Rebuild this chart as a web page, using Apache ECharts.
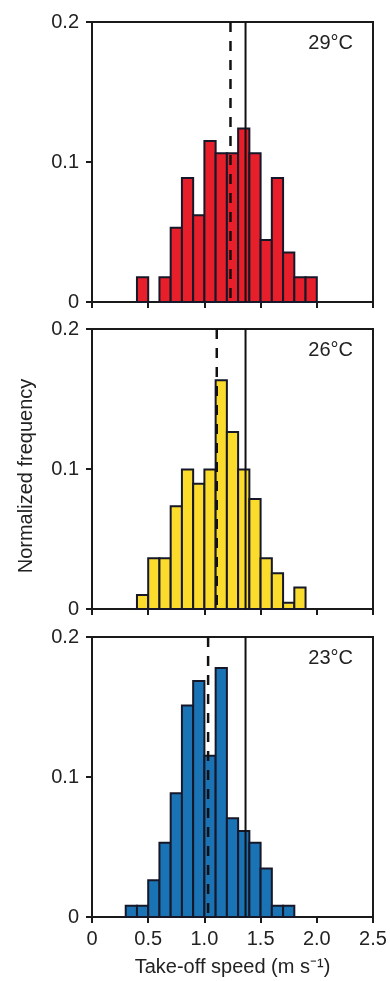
<!DOCTYPE html>
<html>
<head>
<meta charset="utf-8">
<script src="https://cdn.jsdelivr.net/npm/echarts@6/dist/echarts.min.js"></script>
<style>
  html, body { margin: 0; padding: 0; background: #fff; }
  #chart { width: 390px; height: 981px; }
</style>
</head>
<body>
<div id="chart"></div>
<script>
// histogram bins (left edge, width 0.1 m/s)
var binStarts = [0.3, 0.4, 0.5, 0.6, 0.7, 0.8, 0.9, 1.0, 1.1, 1.2, 1.3, 1.4, 1.5, 1.6, 1.7, 1.8, 1.9];
var binWidth = 0.1;

// normalized frequency per bin, one array per temperature
var freq29 = [0, 0.0177, 0, 0.0177, 0.0531, 0.0885, 0.0619, 0.1150, 0.1062, 0.1062, 0.1239, 0.1062, 0.0442, 0.0885, 0.0354, 0.0177, 0.0177];
var freq26 = [0, 0.0100, 0.0363, 0.0363, 0.0734, 0.0996, 0.0894, 0.0996, 0.1634, 0.1264, 0.0996, 0.0786, 0.0363, 0.0256, 0.0045, 0.0153, 0];
var freq23 = [0.0081, 0.0081, 0.0263, 0.0530, 0.0884, 0.1510, 0.1685, 0.1152, 0.1778, 0.0705, 0.0614, 0.0530, 0.0346, 0.0081, 0.0081, 0, 0];

var temps = ['29°C', '26°C', '23°C'];
var colors = ['#e61f2b', '#fbdc2c', '#1a73b5'];
var medians = [1.232, 1.110, 1.033];  // dashed lines
var refSpeed = 1.366;                 // solid line

var allFreq = [freq29, freq26, freq23];
var tops = [22, 329, 637];
var panelH = 280;
var ink = '#1a1a1a';
var txt = '#222';
var font = 'Liberation Sans, Arial, sans-serif';

var chart = echarts.init(document.getElementById('chart'));

var grids = [], xAxes = [], yAxes = [], series = [], graphics = [];

temps.forEach(function (t, i) {
  grids.push({
    left: 92, right: 17, top: tops[i], height: panelH,
    show: true, borderColor: ink, borderWidth: 2, backgroundColor: 'transparent'
  });
  xAxes.push({
    type: 'value', gridIndex: i, min: 0, max: 2.5, interval: 0.5,
    axisLine: { show: true, onZero: false, lineStyle: { color: ink, width: 2 } },
    axisTick: { show: true, length: 6, lineStyle: { color: ink, width: 2 } },
    axisLabel: {
      show: i === 2, color: txt, fontSize: 20, fontFamily: font, margin: 12,
      formatter: function (v) { return v === 0 ? '0' : v.toFixed(1); }
    },
    splitLine: { show: false },
    name: i === 2 ? 'Take-off speed (m s\u207B\u00B9)' : '',
    nameLocation: 'middle', nameGap: 40,
    nameTextStyle: { color: txt, fontSize: 20, fontFamily: font, verticalAlign: 'top' }
  });
  yAxes.push({
    type: 'value', gridIndex: i, min: 0, max: 0.2, interval: 0.1,
    axisLine: { show: true, lineStyle: { color: ink, width: 2 } },
    axisTick: { show: true, length: 6, lineStyle: { color: ink, width: 2 } },
    axisLabel: {
      color: txt, fontSize: 20, fontFamily: font, margin: 13,
      formatter: function (v) { return v === 0 ? '0' : String(Math.round(v * 10) / 10); }
    },
    splitLine: { show: false }
  });

  var data = [];
  binStarts.forEach(function (s, k) {
    if (allFreq[i][k] > 0) data.push([s, s + binWidth, allFreq[i][k]]);
  });

  series.push({
    type: 'custom', xAxisIndex: i, yAxisIndex: i, z: 2,
    data: data,
    encode: { x: [0, 1], y: 2 },
    renderItem: function (params, api) {
      var p0 = api.coord([api.value(0), 0]);
      var p1 = api.coord([api.value(1), api.value(2)]);
      return {
        type: 'rect',
        shape: { x: p0[0], y: p1[1], width: p1[0] - p0[0], height: p0[1] - p1[1] },
        style: { fill: colors[i], stroke: '#16182a', lineWidth: 2 }
      };
    }
  });
  // dashed line drawn from the top so the first dash touches the frame
  series.push({
    type: 'line', xAxisIndex: i, yAxisIndex: i, z: 5, symbol: 'none', silent: true,
    data: [[medians[i], 0.2], [medians[i], 0]],
    lineStyle: { color: '#111', width: 2.5, type: [10, 9] }
  });
  series.push({
    type: 'line', xAxisIndex: i, yAxisIndex: i, z: 5, symbol: 'none', silent: true,
    data: [[refSpeed, 0], [refSpeed, 0.2]],
    lineStyle: { color: '#111', width: 2 }
  });

  graphics.push({
    type: 'text', right: 37, top: tops[i] + 11,
    style: { text: t, fill: txt, fontSize: 20, fontFamily: font }
  });
});

graphics.push({
  type: 'text', x: 26, y: 476, rotation: Math.PI / 2,
  style: {
    text: 'Normalized frequency', fill: txt, fontSize: 20, fontFamily: font,
    align: 'center', verticalAlign: 'middle'
  }
});

chart.setOption({
  animation: false,
  backgroundColor: '#fff',
  grid: grids,
  xAxis: xAxes,
  yAxis: yAxes,
  series: series,
  graphic: graphics
});
</script>
</body>
</html>
